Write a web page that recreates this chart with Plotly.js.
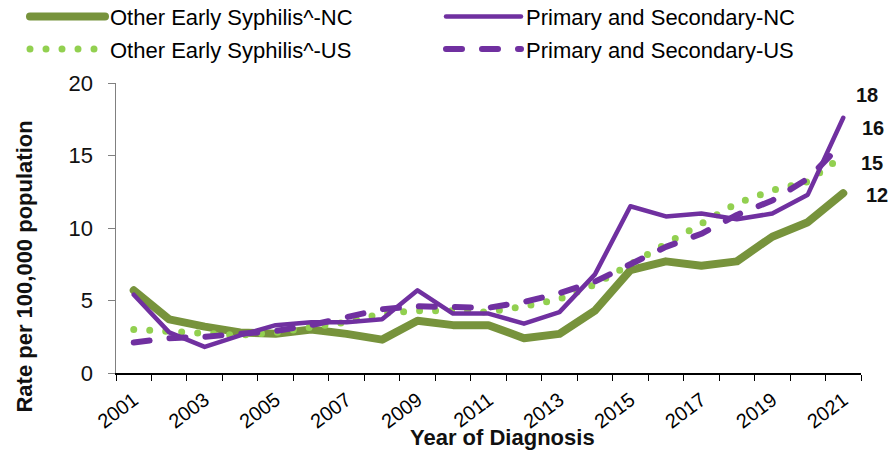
<!DOCTYPE html>
<html><head><meta charset="utf-8">
<script src="https://cdn.plot.ly/plotly-3.0.1.min.js"></script>
<style>
body{margin:0;background:#fff}
#chart{width:892px;height:452px}
.js-line{stroke-linecap:round;stroke-linejoin:round}
</style></head><body><div id="chart"></div>
<script>
const years = [2001,2002,2003,2004,2005,2006,2007,2008,2009,2010,2011,2012,2013,2014,2015,2016,2017,2018,2019,2020,2021];
const tickYears = [2001,2003,2005,2007,2009,2011,2013,2015,2017,2019,2021];
const otherEarlyNC = [5.7,3.7,3.2,2.8,2.7,3.0,2.7,2.3,3.6,3.3,3.3,2.4,2.7,4.3,7.1,7.7,7.4,7.7,9.4,10.4,12.4];
const otherEarlyUS = [3.0,2.9,2.8,2.6,2.8,3.1,3.5,4.1,4.3,4.3,4.2,4.6,5.1,6.1,7.5,8.9,10.3,11.7,12.6,13.2,15.0];
const primSecNC   = [5.4,2.8,1.8,2.6,3.3,3.5,3.5,3.7,5.7,4.1,4.1,3.4,4.2,6.8,11.5,10.8,11.0,10.6,11.0,12.3,17.6];
const primSecUS   = [2.1,2.4,2.5,2.7,2.9,3.3,3.8,4.4,4.6,4.5,4.5,4.9,5.5,6.3,7.5,8.7,9.6,10.9,11.9,13.4,15.9];
const names = ['Other Early Syphilis^-NC','Other Early Syphilis^-US','Primary and Secondary-NC','Primary and Secondary-US'];

const GREEN_D = '#77933C', GREEN_L = '#92D050', PURPLE = '#7030A0';
const FONT = 'Liberation Sans, Arial, sans-serif';

const traces = [
  {x: years, y: otherEarlyNC, name: names[0], mode: 'lines', line: {color: GREEN_D, width: 8}, legend: 'legend', legendgroup: 'a', legendrank: 1},
  {x: years, y: otherEarlyUS, name: names[1], mode: 'lines', line: {color: GREEN_L, width: 7, dash: '0px,16px'}, legend: 'legend', legendgroup: 'b', legendrank: 2},
  {x: years, y: primSecUS, name: names[3], mode: 'lines', line: {color: PURPLE, width: 6, dash: '16px,20px'}, legend: 'legend2', legendgroup: 'd', legendrank: 4},
  {x: years, y: primSecNC, name: names[2], mode: 'lines', line: {color: PURPLE, width: 4.5}, legend: 'legend2', legendgroup: 'c', legendrank: 3}
];

// end labels
const endSeries = [primSecNC, primSecUS, otherEarlyUS, otherEarlyNC];
const endShiftX = [24, 30, 29, 34];
const endShiftY = [23, 14, -7, -2];
const annotations = endSeries.map((s, i) => ({
  x: years[years.length - 1], y: s[s.length - 1], xref: 'x', yref: 'y',
  text: String(Math.round(s[s.length - 1])), showarrow: false,
  xshift: endShiftX[i], yshift: endShiftY[i],
  font: {family: FONT, size: 20, color: '#111', weight: 'bold'}
}));
annotations.push({
  xref: 'paper', yref: 'paper', x: 0, xshift: -91, xanchor: 'center', yanchor: 'middle', y: 0.367,
  text: '<b>Rate per 100,000 population</b>', textangle: -90, showarrow: false,
  font: {family: FONT, size: 22, color: '#111'}
});
annotations.push({
  xref: 'paper', yref: 'paper', x: 0.519, y: -0.2225, yanchor: 'middle',
  text: '<b>Year of Diagnosis</b>', showarrow: false,
  font: {family: FONT, size: 22, color: '#111'}
});

const legendBase = {
  orientation: 'v', xref: 'container', yref: 'paper', xanchor: 'left', yanchor: 'top',
  bgcolor: 'rgba(0,0,0,0)', font: {family: FONT, size: 22, color: '#000'},
  itemwidth: 75, tracegroupgap: 1, traceorder: 'grouped'
};

const layout = {
  width: 892, height: 452,
  margin: {l: 116, r: 31, t: 83, b: 79, autoexpand: false},
  paper_bgcolor: '#fff', plot_bgcolor: '#fff',
  showlegend: true,
  legend: Object.assign({}, legendBase, {x: 25/892, y: 1.301}),
  legend2: Object.assign({}, legendBase, {x: 441/892, y: 1.301}),
  xaxis: {
    range: [2000.5, 2021.5], tickmode: 'array', tickvals: tickYears,
    ticks: '', tickangle: -37, showgrid: false, zeroline: false,
    showline: true, linecolor: '#000', linewidth: 1.5,
    tickfont: {family: FONT, size: 20, color: '#000'}, ticklabelstandoff: 6,
    minor: {tickmode: 'linear', tick0: 2000.5, dtick: 1, ticks: 'outside', ticklen: 6, tickwidth: 1, tickcolor: '#000', showgrid: false}
  },
  yaxis: {
    range: [0, 20], dtick: 5, ticks: 'outside', ticklen: 7, tickcolor: '#808080',
    showgrid: false, zeroline: false, showline: true, linecolor: '#808080', linewidth: 1.5,
    tickfont: {family: FONT, size: 22, color: '#111'}, ticklabelstandoff: 10
  },
  annotations: annotations
};

Plotly.newPlot('chart', traces, layout, {displayModeBar: false, staticPlot: true});
</script>
</body></html>
